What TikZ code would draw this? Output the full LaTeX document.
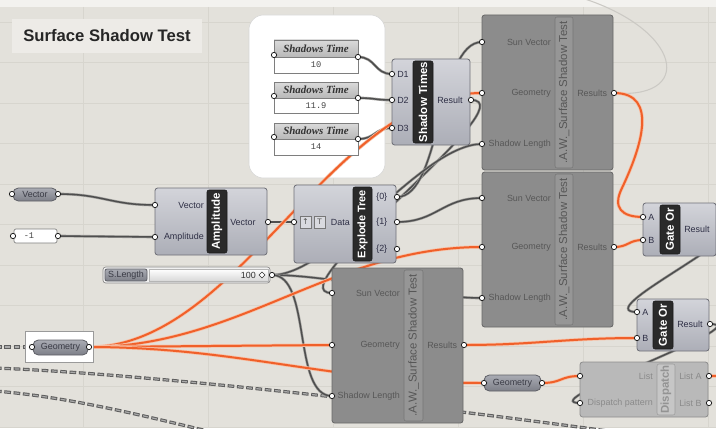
\documentclass[tikz,border=0pt]{standalone}
\usepackage{fontspec}
\setmainfont{Liberation Sans}
\newfontfamily\timefont{Liberation Serif}
\newfontfamily\valfont{Liberation Mono}
\newfontfamily\symfont{DejaVu Sans}

\definecolor{canvas}{HTML}{E3E1DB}
\definecolor{canvastop}{HTML}{F3F2EF}
\definecolor{gridln}{HTML}{D7D5CE}
\definecolor{titlebg}{HTML}{EDEBE7}
\definecolor{titletext}{HTML}{262626}
\definecolor{groupedge}{HTML}{D6D6D6}
\definecolor{compedge}{HTML}{6F7078}
\definecolor{comptop}{HTML}{D3D4DA}
\definecolor{compbot}{HTML}{ACAEB7}
\definecolor{comptext}{HTML}{2E2F45}
\definecolor{stripfill}{HTML}{2A2A2A}
\definecolor{stripedge}{HTML}{1A1A1A}
\definecolor{sstbody}{HTML}{8C8C8C}
\definecolor{sstedge}{HTML}{686868}
\definecolor{sststripfill}{HTML}{969696}
\definecolor{sststripedge}{HTML}{767676}
\definecolor{ssttext}{HTML}{575757}
\definecolor{paramedge}{HTML}{5E5F66}
\definecolor{paramtop}{HTML}{A9ABB3}
\definecolor{parambot}{HTML}{7D7F88}
\definecolor{paramtext}{HTML}{3A3B45}
\definecolor{paneledge}{HTML}{7E7E7E}
\definecolor{paneltop}{HTML}{DADADA}
\definecolor{panelbot}{HTML}{B8B8B8}
\definecolor{valgray}{HTML}{444444}
\definecolor{darktext}{HTML}{333333}
\definecolor{portedge}{HTML}{202020}
\definecolor{wireor}{HTML}{F0602A}
\definecolor{wireorlt}{HTML}{F7C2A8}
\definecolor{wiredk}{HTML}{4E4E4E}
\definecolor{wiredklt}{HTML}{A09F9C}
\definecolor{wirelt}{HTML}{CBC9C4}
\definecolor{dashdk}{HTML}{5E5E5E}
\definecolor{dashlt}{HTML}{ABABAB}
\definecolor{boxedge}{HTML}{9A9A9A}
\definecolor{slideredge}{HTML}{8A8A8A}
\definecolor{sliderbg}{HTML}{F0F0F0}
\definecolor{trackedge}{HTML}{B5B5B5}
\definecolor{trackbot}{HTML}{D8D8D8}
\definecolor{btnedge}{HTML}{777777}
\definecolor{btnfill}{HTML}{D9DADF}
\definecolor{btntext}{HTML}{555555}
\definecolor{dspedge}{HTML}{8E8E8E}
\definecolor{dspbody}{HTML}{B9B9B9}
\definecolor{dspstripedge}{HTML}{9C9C9C}
\definecolor{dspstrip}{HTML}{C6C6C6}
\definecolor{dsptitle}{HTML}{939393}
\definecolor{dsptext}{HTML}{8A8A8A}

\newcommand\lblfont{\fontsize{6.7}{7}\selectfont}
\newcommand\stripfont{\bfseries\fontsize{8.6}{9}\selectfont}

\tikzset{
  comp/.style={draw=compedge, line width=0.6pt, top color=comptop, bottom color=compbot, rounded corners=2pt},
  strip/.style={fill=stripfill, draw=stripedge, rounded corners=1.5pt},
  striptext/.style={text=white, font=\stripfont, rotate=90, inner sep=0pt},
  sst/.style={draw=sstedge, line width=0.6pt, fill=sstbody, rounded corners=2pt},
  sststrip/.style={draw=sststripedge, fill=sststripfill, rounded corners=1.5pt},
  ssttitle/.style={text=ssttext, font=\fontsize{8.6}{9}\selectfont, rotate=90, inner sep=0pt},
  lbl/.style={inner sep=0pt, text=comptext, font=\lblfont},
  sstlbl/.style={inner sep=0pt, text=ssttext, font=\lblfont},
  dsplbl/.style={inner sep=0pt, text=dsptext, font=\lblfont},
  param/.style={draw=paramedge, line width=0.6pt, top color=paramtop, bottom color=parambot, rounded corners=4pt},
  panelhead/.style={draw=paneledge, line width=0.5pt, top color=paneltop, bottom color=panelbot},
  panelval/.style={draw=paneledge, line width=0.5pt, fill=white},
  valtext/.style={inner sep=0pt, text=valgray, font=\valfont\fontsize{6.5}{7}\selectfont},
  timetext/.style={inner sep=0pt, text=darktext, font=\timefont\bfseries\itshape\fontsize{8.2}{9}\selectfont},
  port/.style={circle, draw=portedge, fill=white, line width=0.6pt, inner sep=0pt, minimum size=4pt},
  dwire/.style={draw=wiredk, line width=1.1pt, preaction={draw=wiredklt, line width=2pt}},
  owire/.style={draw=wireor, line width=1.5pt, preaction={draw=wireorlt, line width=2.6pt}},
  lwire/.style={draw=wirelt, line width=0.8pt},
  dashwire/.style={draw=dashdk, line width=2.4pt, dash pattern=on 5pt off 2pt,
    postaction={draw=dashlt, line width=0.9pt, dash pattern=on 3.6pt off 3.4pt, dash phase=6.3pt}}
}

\begin{document}
\begin{tikzpicture}[x=0.75pt, y=-0.75pt]
\useasboundingbox (0,0) rectangle (716,428);
\clip (0,0) rectangle (716,428);

% canvas and grid
\fill[canvas] (0,0) rectangle (716,428);
\fill[canvastop] (0,0) rectangle (716,7);
\foreach \gx in {83,208,333,458,583,708} \draw[gridln, line width=0.5pt] (\gx,7) -- (\gx,428);
\foreach \gy in {22,62.5,103,143.5,184,224.5,265,305.5,346,386.5,427} \draw[gridln, line width=0.5pt] (0,\gy) -- (716,\gy);

% title and group
\fill[titlebg] (12,19) rectangle (202,53);
\node[inner sep=0pt, text=titletext, font=\bfseries\fontsize{12.5}{14}\selectfont] (title) at (107,36) {Surface Shadow Test};
\draw[groupedge, fill=white, rounded corners=11pt] (249,15) rectangle (385,178);

% ports
\coordinate (vec-in) at (12,194);  \coordinate (vec-out) at (58,194);
\coordinate (neg-in) at (13,236);  \coordinate (neg-out) at (58,236);
\coordinate (amp-vec) at (155,205); \coordinate (amp-amp) at (155,237); \coordinate (amp-out) at (268,222);
\coordinate (sl-out) at (272,275);
\coordinate (expl-in) at (294,222);
\coordinate (expl-0) at (397,197); \coordinate (expl-1) at (397,222); \coordinate (expl-2) at (397,249);
\coordinate (tm1-in) at (274,55);  \coordinate (tm1-out) at (358,57);
\coordinate (tm2-in) at (274,96);  \coordinate (tm2-out) at (358,98);
\coordinate (tm3-in) at (274,137); \coordinate (tm3-out) at (358,139);
\coordinate (st-d1) at (392,74); \coordinate (st-d2) at (392,100); \coordinate (st-d3) at (392,128); \coordinate (st-out) at (471,100);
\coordinate (sa-sun) at (482,42);  \coordinate (sa-geo) at (482,93);  \coordinate (sa-len) at (482,144); \coordinate (sa-out) at (614,93);
\coordinate (sb-sun) at (482,198); \coordinate (sb-geo) at (482,247); \coordinate (sb-len) at (482,298); \coordinate (sb-out) at (614,247);
\coordinate (sc-sun) at (332,293); \coordinate (sc-geo) at (332,345); \coordinate (sc-len) at (332,396); \coordinate (sc-out) at (464,345);
\coordinate (go1-a) at (643,217); \coordinate (go1-b) at (643,240); \coordinate (go1-out) at (716,229);
\coordinate (go2-a) at (637,312); \coordinate (go2-b) at (637,338); \coordinate (go2-out) at (710,324);
\coordinate (geo1-in) at (32,347);  \coordinate (geo1-out) at (89,347);
\coordinate (geo2-in) at (484,383); \coordinate (geo2-out) at (542,383);
\coordinate (dsp-list) at (580,376); \coordinate (dsp-pat) at (580,403); \coordinate (dsp-a) at (709,376); \coordinate (dsp-b) at (709,403);
\coordinate (geo1-src) at (-5,347);
\coordinate (dash1-s) at (-5,368); \coordinate (dash1-e) at (630,434);
\coordinate (dash2-s) at (-5,391); \coordinate (dash2-e) at (270,446);
\coordinate (arc-e) at (560,-8);
\coordinate (dsp-a-e) at (725,376);

% dashed wires
\draw[dashwire] (geo1-src) -- (geo1-in);
\draw[dashwire] (dash1-s) .. controls (150,374) and (420,405) .. (dash1-e);
\draw[dashwire] (dash2-s) .. controls (80,398) and (160,420) .. (dash2-e);

% dark wires
\draw[dwire] (vec-out) .. controls +(45,0) and +(-45,0) .. (amp-vec);
\draw[dwire] (neg-out) -- (amp-amp);
\draw[dwire] (amp-out) -- (expl-in);
\draw[dwire] (tm1-out) .. controls +(18,0) and +(-18,0) .. (st-d1);
\draw[dwire] (tm2-out) .. controls +(18,0) and +(-18,0) .. (st-d2);
\draw[dwire] (tm3-out) .. controls +(18,0) and +(-18,0) .. (st-d3);
\draw[dwire] (st-out) .. controls +(60,0) and +(-60,0) .. (sc-sun);
\draw[dwire] (expl-0) .. controls +(45,0) and +(-45,0) .. (sa-sun);
\draw[dwire] (expl-1) .. controls +(40,0) and +(-40,0) .. (sb-sun);
\draw[dwire] (sl-out) .. controls +(60,0) and +(-60,0) .. (sa-len);
\draw[dwire] (sl-out) .. controls +(60,0) and +(-60,0) .. (sb-len);
\draw[dwire] (sl-out) .. controls +(40,0) and +(-40,0) .. (sc-len);
\draw[dwire] (go1-out) .. controls +(50,0) and +(-50,0) .. (go2-a);
\draw[dwire] (go2-out) .. controls +(50,0) and +(-50,0) .. (dsp-pat);
\draw[lwire] (sa-out) .. controls (700,100) and (680,20) .. (arc-e);

% orange wires
\draw[owire] (geo1-out) .. controls +(150,0) and +(-150,0) .. (sa-geo);
\draw[owire] (geo1-out) .. controls +(150,0) and +(-150,0) .. (sb-geo);
\draw[owire] (geo1-out) -- (sc-geo);
\draw[owire] (geo1-out) .. controls +(150,0) and +(-150,0) .. (geo2-in);
\draw[owire] (sa-out) .. controls (660,93) and (640,150) .. (622,188) .. controls (612,208) and (622,217) .. (go1-a);
\draw[owire] (sb-out) .. controls +(15,0) and +(-15,0) .. (go1-b);
\draw[owire] (sc-out) .. controls +(70,0) and +(-70,0) .. (go2-b);
\draw[owire] (geo2-out) .. controls +(20,0) and +(-20,0) .. (dsp-list);
\draw[owire] (dsp-a) -- (dsp-a-e);

% params
\draw[param] (13,188) rectangle (57,201);
\node[lbl, text=paramtext] (vec-txt) at (35,194.5) {Vector};
\draw[panelval, rounded corners=1.5pt] (14,229) rectangle (57,243);
\node[valtext] (neg-txt) at (29,236) {-1};
\draw[boxedge, fill=white, line width=0.5pt] (25,331) rectangle (93,362);
\draw[param] (33,340) rectangle (88,355);
\node[lbl, text=paramtext] (geo1-txt) at (60.5,347.5) {Geometry};
\draw[param] (484,375) rectangle (541,391);
\node[lbl, text=paramtext] (geo2-txt) at (512.5,383) {Geometry};

% slider
\draw[slideredge, fill=sliderbg, rounded corners=2pt, line width=0.5pt] (103,267) rectangle (270,283);
\draw[param, rounded corners=1.5pt] (105,269) rectangle (147,281);
\node[lbl, text=paramtext] (sl-txt) at (126,275) {S.Length};
\draw[trackedge, top color=white, bottom color=trackbot, line width=0.4pt] (149,269) rectangle (268,281);
\node[lbl, anchor=east, text=darktext] (sl-val) at (256,275) {100};
\draw[darktext, fill=white, line width=0.5pt] (262,272) -- (265,275) -- (262,278) -- (259,275) -- cycle;

% shadows time panels
\draw[panelhead] (274,40) rectangle (358,57);
\draw[panelval] (274,57) rectangle (358,73);
\node[timetext] (tm1-head) at (316,48.5) {Shadows Time};
\node[valtext] (tm1-val) at (316,65) {10};
\draw[panelhead] (274,82) rectangle (358,98);
\draw[panelval] (274,98) rectangle (358,113);
\node[timetext] (tm2-head) at (316,90) {Shadows Time};
\node[valtext] (tm2-val) at (316,105.5) {11.9};
\draw[panelhead] (274,123) rectangle (358,139);
\draw[panelval] (274,139) rectangle (358,155);
\node[timetext] (tm3-head) at (316,131) {Shadows Time};
\node[valtext] (tm3-val) at (316,147) {14};

% shadow times
\draw[comp] (392,59) rectangle (470,145);
\draw[strip] (413,61) rectangle (433,143);
\node[striptext] (st-title) at (423,102) {Shadow Times};
\node[lbl, anchor=west] (st-l1) at (397,74) {D1};
\node[lbl, anchor=west] (st-l2) at (397,100) {D2};
\node[lbl, anchor=west] (st-l3) at (397,128) {D3};
\node[lbl, anchor=west] (st-l4) at (437,100) {Result};

% amplitude
\draw[comp] (155,188) rectangle (267,255);
\draw[strip] (207,190) rectangle (227,253);
\node[striptext] (amp-title) at (217,221.5) {Amplitude};
\node[lbl, anchor=east] (amp-l1) at (204,205) {Vector};
\node[lbl, anchor=east] (amp-l2) at (204,237) {Amplitude};
\node[lbl, anchor=west] (amp-l3) at (230,222) {Vector};

% explode tree
\draw[comp] (294,185) rectangle (396,263);
\draw[strip] (353,187) rectangle (372,261);
\node[striptext, font=\bfseries\fontsize{8.2}{9}\selectfont] (ex-title) at (362.5,224) {Explode Tree};
\draw[btnedge, fill=btnfill, line width=0.4pt] (300,216) rectangle (311,228);
\draw[btnedge, fill=btnfill, line width=0.4pt] (314,216) rectangle (325,228);
\node[inner sep=0pt, text=btntext, font=\symfont\fontsize{6}{6}\selectfont] (ex-btn1) at (305.5,222) {↑};
\node[inner sep=0pt, text=btntext, font=\fontsize{6}{6}\selectfont] (ex-btn2) at (319.5,222) {T};
\node[lbl, anchor=east] (ex-l0) at (350,222) {Data};
\node[lbl, anchor=west] (ex-l1) at (376,197) {\{0\}};
\node[lbl, anchor=west] (ex-l2) at (376,222) {\{1\}};
\node[lbl, anchor=west] (ex-l3) at (376,249) {\{2\}};

% surface shadow test components
\draw[sst] (482,15) rectangle (613,170);
\draw[sststrip] (555,17) rectangle (573,168);
\node[ssttitle] (sa-title) at (564,92.5) {.A.W.\_Surface Shadow Test};
\node[sstlbl, anchor=east] (sa-l1) at (551,42) {Sun Vector};
\node[sstlbl, anchor=east] (sa-l2) at (551,93) {Geometry};
\node[sstlbl, anchor=east] (sa-l3) at (551,144) {Shadow Length};
\node[sstlbl, anchor=west] (sa-l4) at (577,93) {Results};

\draw[sst] (482,172) rectangle (613,327);
\draw[sststrip] (555,174) rectangle (573,325);
\node[ssttitle] (sb-title) at (564,249.5) {.A.W.\_Surface Shadow Test};
\node[sstlbl, anchor=east] (sb-l1) at (551,198) {Sun Vector};
\node[sstlbl, anchor=east] (sb-l2) at (551,247) {Geometry};
\node[sstlbl, anchor=east] (sb-l3) at (551,298) {Shadow Length};
\node[sstlbl, anchor=west] (sb-l4) at (577,247) {Results};

\draw[sst] (332,268) rectangle (463,423);
\draw[sststrip] (404,270) rectangle (423,421);
\node[ssttitle] (sc-title) at (413.5,345.5) {.A.W.\_Surface Shadow Test};
\node[sstlbl, anchor=east] (sc-l1) at (400,293) {Sun Vector};
\node[sstlbl, anchor=east] (sc-l2) at (400,345) {Geometry};
\node[sstlbl, anchor=east] (sc-l3) at (400,396) {Shadow Length};
\node[sstlbl, anchor=west] (sc-l4) at (427,345) {Results};

% gates
\draw[comp] (643,203) rectangle (716,256);
\draw[strip] (660,205) rectangle (680,254);
\node[striptext] (go1-title) at (670,229.5) {Gate Or};
\node[lbl, anchor=west] (go1-l1) at (648,217) {A};
\node[lbl, anchor=west] (go1-l2) at (648,240) {B};
\node[lbl, anchor=west] (go1-l3) at (684,229) {Result};

\draw[comp] (637,299) rectangle (709,351);
\draw[strip] (653,301) rectangle (673,349);
\node[striptext] (go2-title) at (663,325) {Gate Or};
\node[lbl, anchor=west] (go2-l1) at (642,312) {A};
\node[lbl, anchor=west] (go2-l2) at (642,338) {B};
\node[lbl, anchor=west] (go2-l3) at (677,324) {Result};

% dispatch
\draw[draw=dspedge, fill=dspbody, line width=0.6pt, rounded corners=2pt] (580,362) rectangle (708,417);
\draw[draw=dspstripedge, fill=dspstrip, rounded corners=1.5pt] (657,364) rectangle (675,415);
\node[striptext, text=dsptitle] (dsp-title) at (666,389.5) {Dispatch};
\node[dsplbl, anchor=east] (dsp-l1) at (653,376) {List};
\node[dsplbl, anchor=east] (dsp-l2) at (653,403) {Dispatch pattern};
\node[dsplbl, anchor=west] (dsp-l3) at (679,376) {List A};
\node[dsplbl, anchor=west] (dsp-l4) at (679,403) {List B};

% port dots
\foreach \p in {vec-in,vec-out,neg-in,neg-out,amp-vec,amp-amp,amp-out,sl-out,expl-in,expl-0,expl-1,expl-2,
  tm1-in,tm1-out,tm2-in,tm2-out,tm3-in,tm3-out,st-d1,st-d2,st-d3,st-out,
  sa-sun,sa-geo,sa-len,sa-out,sb-sun,sb-geo,sb-len,sb-out,sc-sun,sc-geo,sc-len,sc-out,
  go1-a,go1-b,go2-a,go2-b,go2-out,geo1-in,geo1-out,geo2-in,geo2-out,dsp-list,dsp-pat,dsp-a,dsp-b}
  \node[port] at (\p) {};
\end{tikzpicture}
\end{document}
